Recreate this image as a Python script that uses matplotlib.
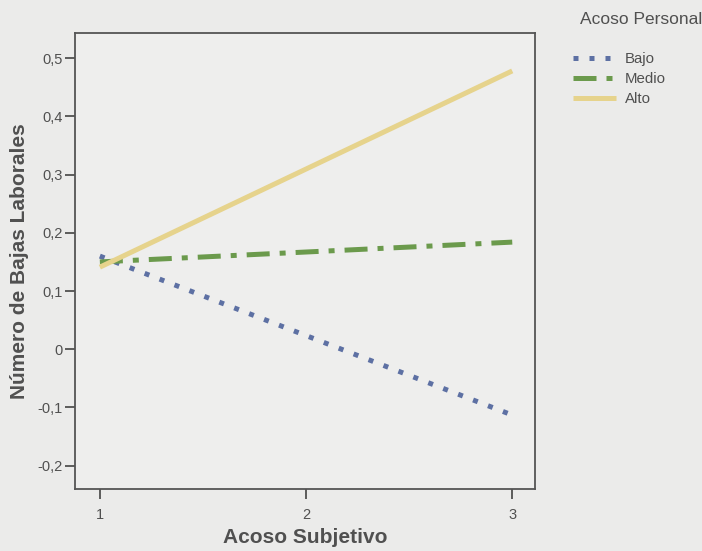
import matplotlib.pyplot as plt

plt.rcParams['font.family'] = ['Liberation Sans', 'DejaVu Sans']

acoso_subjetivo = [1, 3]
bajo = [0.16, -0.113]
medio = [0.150, 0.184]
alto = [0.141, 0.478]
series_names = ['Bajo', 'Medio', 'Alto']
legend_title = 'Acoso Personal'
yticks = [-0.2, -0.1, 0, 0.1, 0.2, 0.3, 0.4, 0.5]
ytick_labels = ['-0,2', '-0,1', '0', '0,1', '0,2', '0,3', '0,4', '0,5']
xticks = [1, 2, 3]

bg = '#ebebea'
txt = '#505050'

fig = plt.figure(figsize=(7.02, 5.51), dpi=100, facecolor=bg)
ax = fig.add_axes([0.107, 0.1125, 0.655, 0.8275], facecolor='#eeeeed')

ax.plot(acoso_subjetivo, bajo, color='#5d70a3', lw=3.6, dashes=(1, 2.2),
        label=series_names[0])
ax.plot(acoso_subjetivo, medio, color='#6b9a4c', lw=3.6, dashes=(4.6, 2, 1.2, 2),
        label=series_names[1])
ax.plot(acoso_subjetivo, alto, color='#e6d38c', lw=3.6,
        label=series_names[2], solid_capstyle='butt')

ax.set_xlim(0.88, 3.11)
ax.set_ylim(-0.24, 0.543)
ax.set_xticks(xticks)
ax.set_xticklabels([str(x) for x in xticks])
ax.set_yticks(yticks)
ax.set_yticklabels(ytick_labels)
ax.tick_params(colors=txt, labelsize=10.5, length=7, width=1.3)
ax.tick_params(axis='x', pad=7)
ax.tick_params(axis='y', pad=2)
for s in ax.spines.values():
    s.set_color('#555555')
    s.set_linewidth(1.3)

ax.set_xlabel('Acoso Subjetivo', fontsize=15, fontweight='bold', color=txt, labelpad=4)
ax.set_ylabel('Número de Bajas Laborales', fontsize=15, fontweight='bold', color=txt, labelpad=6)

fig.text(0.826, 0.965, legend_title, fontsize=12.5, color=txt, va='center', ha='left')
leg = fig.legend(loc='upper left', bbox_to_anchor=(0.816, 0.906), frameon=False,
                 fontsize=10.8, handlelength=2.9, labelspacing=0.42,
                 handletextpad=0.55, borderpad=0, borderaxespad=0)
for t in leg.get_texts():
    t.set_color(txt)

fig.savefig('out.png', dpi=100, facecolor=bg)
